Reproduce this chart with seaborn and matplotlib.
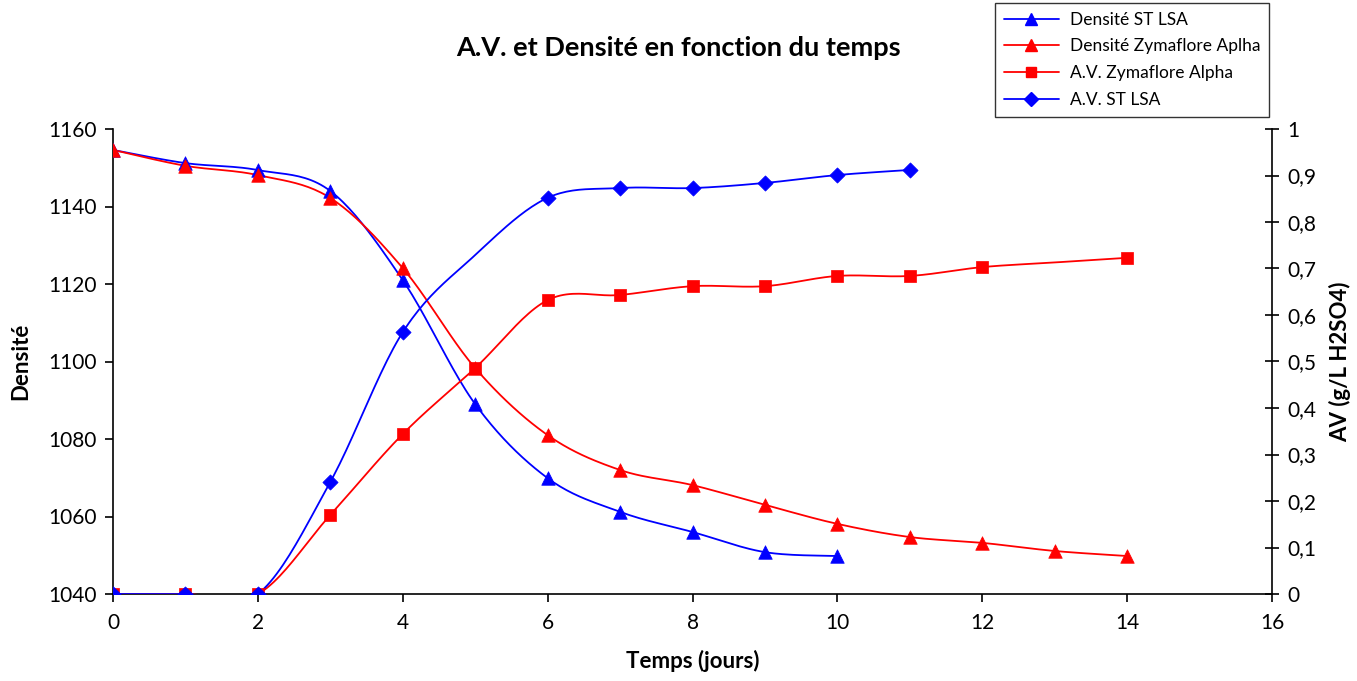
import numpy as np
import pandas as pd
import matplotlib
matplotlib.use("Agg")
import matplotlib.pyplot as plt
from matplotlib.lines import Line2D
from matplotlib.ticker import FuncFormatter, MultipleLocator
import seaborn as sns

# ---- data ----
days_st_dens = [0, 1, 2, 3, 4, 5, 6, 7, 8, 9, 10]
dens_st = [1154.6, 1151.2, 1149.4, 1144.0, 1121.0, 1089.0, 1069.9, 1061.2, 1056.0, 1050.8, 1049.8]

days_zy_dens = [0, 1, 2, 3, 4, 5, 6, 7, 8, 9, 10, 11, 12, 13, 14]
dens_zy = [1154.6, 1150.5, 1148.1, 1142.2, 1124.1, 1098.3, 1081.0, 1072.0, 1068.1,
           1063.0, 1058.1, 1054.7, 1053.2, 1051.1, 1049.8]

days_zy_av = [0, 1, 2, 3, 4, 5, 6, 7, 8, 9, 10, 11, 12, 13, 14]
av_zy = [0.0, 0.0, 0.0, 0.170, 0.344, 0.486, 0.632, 0.643, 0.662, 0.662, 0.684,
         0.684, 0.703, 0.713, 0.723]
av_zy_marked = [True] * 13 + [False, True]   # no marker drawn at day 13

days_st_av = [0, 1, 2, 3, 4, 5, 6, 7, 8, 9, 10, 11]
av_st = [0.0, 0.0, 0.0, 0.241, 0.563, 0.729, 0.852, 0.873, 0.873, 0.884, 0.901, 0.912]
av_st_marked = [True] * 5 + [False] + [True] * 6  # no marker drawn at day 5

labels = ["Densité ST LSA", "Densité Zymaflore Aplha", "A.V. Zymaflore Alpha", "A.V. ST LSA"]
BLUE = "#0000FF"
RED = "#FF0000"


def smooth(xs, ys, n=24):
    """Excel-like smoothed line (Catmull-Rom as cubic Bezier)."""
    p = np.column_stack([xs, ys]).astype(float)
    out = [p[0]]
    for i in range(len(p) - 1):
        p0 = p[i - 1] if i > 0 else p[i]
        p1, p2 = p[i], p[i + 1]
        p3 = p[i + 2] if i + 2 < len(p) else p[i + 1]
        c1 = p1 + (p2 - p0) / 6.0
        c2 = p2 - (p3 - p1) / 6.0
        t = np.linspace(0, 1, n)[1:, None]
        seg = ((1 - t) ** 3) * p1 + 3 * ((1 - t) ** 2) * t * c1 + 3 * (1 - t) * t ** 2 * c2 + t ** 3 * p2
        out.extend(seg)
    out = np.array(out)
    return pd.DataFrame({"x": out[:, 0], "y": out[:, 1], "o": np.arange(len(out))})


sns.set_style("white")
plt.rcParams["font.family"] = ["Lato", "DejaVu Sans"]
plt.rcParams["text.color"] = "black"
plt.rcParams["axes.labelcolor"] = "black"
plt.rcParams["xtick.color"] = "black"
plt.rcParams["ytick.color"] = "black"

fig = plt.figure(figsize=(13.57, 6.81), dpi=100)
ax = fig.add_axes([113 / 1357, 1 - 594 / 681, (1272 - 113) / 1357, (594 - 129) / 681])
ax2 = ax.twinx()

lw = 1.3
# densité on left axis
for xs, ys, col in [(days_st_dens, dens_st, BLUE), (days_zy_dens, dens_zy, RED)]:
    d = smooth(xs, ys)
    sns.lineplot(data=d, x="x", y="y", ax=ax, color=col, lw=lw, sort=False, estimator=None, legend=False)
    sns.scatterplot(x=xs, y=ys, ax=ax, marker="^", s=95, color=col, edgecolor=col, linewidth=0.5,
                    legend=False, zorder=5)

# A.V. on right axis
for xs, ys, marked, col, mk, sz in [(days_zy_av, av_zy, av_zy_marked, RED, "s", 70),
                                     (days_st_av, av_st, av_st_marked, BLUE, "D", 60)]:
    d = smooth(xs, ys)
    sns.lineplot(data=d, x="x", y="y", ax=ax2, color=col, lw=lw, sort=False, estimator=None, legend=False)
    mx = [x for x, m in zip(xs, marked) if m]
    my = [y for y, m in zip(ys, marked) if m]
    sns.scatterplot(x=mx, y=my, ax=ax2, marker=mk, s=sz, color=col, edgecolor=col, linewidth=0.5,
                    legend=False, zorder=5)

ax.set_xlim(0, 16)
ax.set_ylim(1040, 1160)
ax2.set_ylim(0, 1)
ax.xaxis.set_major_locator(MultipleLocator(2))
ax.yaxis.set_major_locator(MultipleLocator(20))
ax2.yaxis.set_major_locator(MultipleLocator(0.1))


def comma(v, pos):
    if abs(v - round(v)) < 1e-9:
        return f"{int(round(v))}"
    return f"{v:.1f}".replace(".", ",")


ax2.yaxis.set_major_formatter(FuncFormatter(comma))

for a in (ax, ax2):
    a.grid(False)
    a.spines["top"].set_visible(False)
    for s in ("left", "right", "bottom"):
        a.spines[s].set_color("black")
        a.spines[s].set_linewidth(1.2)
ax.spines["right"].set_visible(False)
ax2.spines["left"].set_visible(False)
ax2.spines["bottom"].set_visible(False)

ax.tick_params(axis="both", which="major", direction="out", length=6, width=1.2, colors="black",
               labelsize=15, pad=6, left=True, bottom=True)
ax.tick_params(axis="x", pad=8)
ax2.tick_params(axis="y", direction="inout", length=10, width=1.2, colors="black", labelsize=15,
                pad=6, right=True)

ax.set_xlabel("Temps (jours)", fontsize=16, fontweight="bold", labelpad=12, color="black")
ax.set_ylabel("Densité", fontsize=16, fontweight="bold", labelpad=12, color="black")
ax2.set_ylabel("AV (g/L H2SO4)", fontsize=16, fontweight="bold", labelpad=9, color="black")

fig.text(678 / 1357, 1 - 48 / 681, "A.V. et Densité en fonction du temps", ha="center", va="center",
         fontsize=19.5, fontweight="bold", color="black")

handles = [
    Line2D([], [], color=BLUE, lw=lw, marker="^", markersize=9),
    Line2D([], [], color=RED, lw=lw, marker="^", markersize=9),
    Line2D([], [], color=RED, lw=lw, marker="s", markersize=7),
    Line2D([], [], color=BLUE, lw=lw, marker="D", markersize=7),
]
leg = fig.legend(handles, labels, loc="upper left", bbox_to_anchor=(995 / 1357, 1 - 3 / 681),
                 borderaxespad=0, frameon=True, fancybox=False, edgecolor="black", fontsize=12.5,
                 handlelength=3.2, borderpad=0.5, labelspacing=0.62, handletextpad=0.6,
                 labelcolor="black")
leg.get_frame().set_linewidth(1.0)

fig.savefig("out.png", dpi=100, facecolor="white")
